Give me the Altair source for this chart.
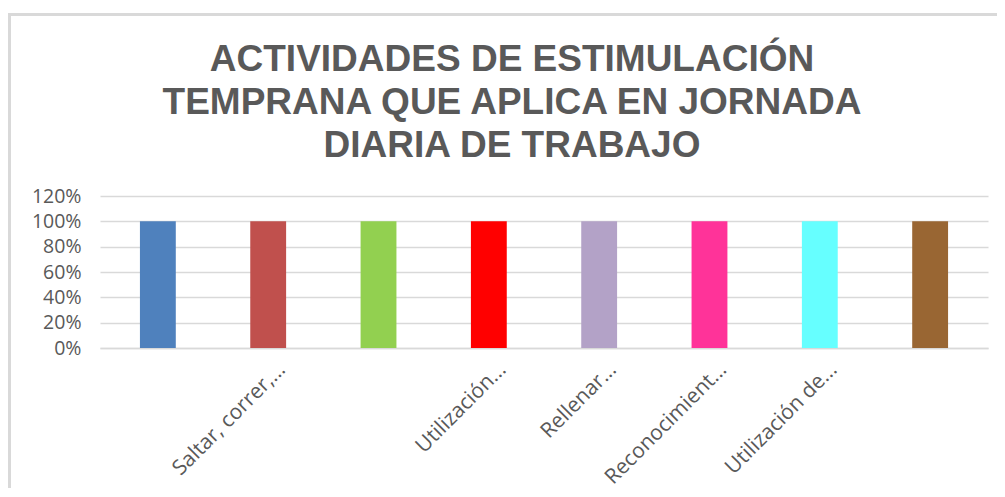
import altair as alt
import pandas as pd

title_lines = ["ACTIVIDADES DE ESTIMULACIÓN", "TEMPRANA QUE APLICA EN JORNADA", "DIARIA DE TRABAJO"]
labels = [" ", "Saltar, correr,...", "  ", "Utilización...", "Rellenar...",
          "Reconocimient...", "Utilización de...", "   "]
values = [1.0, 1.0, 1.0, 1.0, 1.0, 1.0, 1.0, 1.0]
colors = ["#4F81BD", "#C0504D", "#92D050", "#FF0000", "#B3A2C7",
          "#FF3399", "#66FFFF", "#996633"]
y_ticks = [0, 0.2, 0.4, 0.6, 0.8, 1.0, 1.2]

df = pd.DataFrame({"cat": labels, "val": values, "color": colors})

FONT = "Open Sans"
GREY = "#595959"

bars = alt.Chart(df).mark_bar().encode(
    x=alt.X("cat:N", sort=None, title=None,
            scale=alt.Scale(paddingInner=0.675, paddingOuter=0.362),
            axis=alt.Axis(labelAngle=-45, labelAlign="right", labelBaseline="middle",
                          labelFont=FONT, labelFontSize=21, labelColor=GREY,
                          ticks=False, domainColor="#d9d9d9", domainWidth=1.5,
                          labelPadding=18, labelOffset=14, grid=False)),
    y=alt.Y("val:Q", title=None,
            scale=alt.Scale(domain=[0, 1.2], nice=False),
            axis=alt.Axis(values=y_ticks, format=".0%", labelFont=FONT, labelFontSize=19.5,
                          labelColor=GREY, ticks=False, domain=False, labelPadding=19,
                          gridColor="#d9d9d9", gridWidth=1.5)),
    color=alt.Color("color:N", scale=None),
)

border_left = alt.Chart(df).mark_rule(color="#d9d9d9", strokeWidth=3).encode(
    x=alt.value(-90.5), y=alt.value(-181.5), y2=alt.value(292))
border_top = alt.Chart(df).mark_rule(color="#d9d9d9", strokeWidth=3).encode(
    x=alt.value(-92), x2=alt.value(897), y=alt.value(-181.5))

chart = alt.layer(bars, border_left, border_top).properties(
    width=888, height=152,
    autosize=alt.AutoSizeParams(type="none"),
    padding={"left": 92, "top": 188, "right": 9, "bottom": 140},
    title=alt.TitleParams(text=title_lines, font="Liberation Sans", fontSize=37,
                          fontWeight="bold", color=GREY, anchor="middle", frame="group",
                          lineHeight=43, dx=-32, dy=152, offset=0),
).configure_view(stroke=None)

chart.save("out.html", embed_options={"renderer": "svg", "actions": False})
